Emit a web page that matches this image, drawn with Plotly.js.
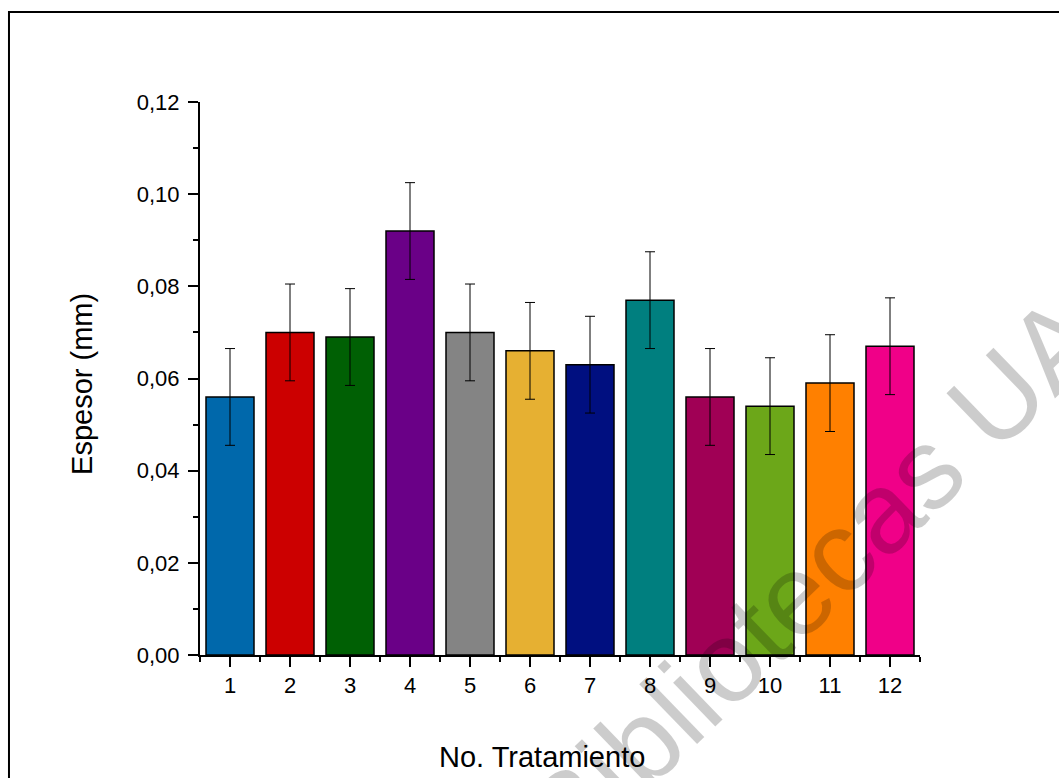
<!DOCTYPE html>
<html>
<head>
<meta charset="utf-8">
<script src="https://cdn.plot.ly/plotly-3.0.1.min.js"></script>
<style>
  html, body { margin: 0; padding: 0; background: #ffffff; }
  #chart { width: 1059px; height: 778px; }
</style>
</head>
<body>
<div id="chart"></div>
<script>
// Data
const categories = [1, 2, 3, 4, 5, 6, 7, 8, 9, 10, 11, 12];
const espesor = [0.056, 0.070, 0.069, 0.092, 0.070, 0.066, 0.063, 0.077, 0.056, 0.054, 0.059, 0.067];
const errores = [0.0105, 0.0105, 0.0105, 0.0105, 0.0105, 0.0105, 0.0105, 0.0105, 0.0105, 0.0105, 0.0105, 0.0105];
const barColors = ["#0068ab", "#cc0000", "#006004", "#6a0087", "#848484", "#e6b032",
                   "#000f80", "#007f7f", "#a00055", "#6ca719", "#ff8000", "#f00088"];
const yTicks = [0, 0.02, 0.04, 0.06, 0.08, 0.10, 0.12];
const xLabel = "No. Tratamiento";
const yLabel = "Espesor (mm)";
const watermark = "Bibliotecas UA";

const font = "Liberation Sans, Arial, sans-serif";

const trace = {
  type: "bar",
  x: categories,
  y: espesor,
  width: 0.8,
  marker: { color: barColors, line: { color: "#000000", width: 1.5 } },
  error_y: { type: "data", array: errores, visible: true, color: "#000000", thickness: 1, width: 5 },
  hoverinfo: "x+y"
};

const layout = {
  width: 1059,
  height: 778,
  margin: { l: 200, r: 139, t: 102, b: 123, pad: 0 },
  paper_bgcolor: "#ffffff",
  plot_bgcolor: "#ffffff",
  separators: ",.",
  showlegend: false,
  font: { family: font, color: "#000000", size: 22 },
  xaxis: {
    type: "linear",
    range: [0.5, 12.5],
    tickvals: categories,
    ticktext: categories.map(String),
    ticks: "outside",
    ticklen: 10,
    tickwidth: 2,
    tickcolor: "#000000",
    showline: true,
    linewidth: 2,
    linecolor: "#000000",
    showgrid: false,
    zeroline: false,
    tickfont: { family: font, size: 22, color: "#000000" },
    minor: { tick0: 0.5, dtick: 1, ticks: "outside", ticklen: 5, tickwidth: 2, tickcolor: "#000000", showgrid: false },
    automargin: false,
    fixedrange: true
  },
  yaxis: {
    range: [0, 0.12],
    tickvals: yTicks,
    tickformat: ".2f",
    ticks: "outside",
    ticklen: 10,
    tickwidth: 2,
    tickcolor: "#000000",
    ticklabelstandoff: 4,
    showline: true,
    linewidth: 2,
    linecolor: "#000000",
    showgrid: false,
    zeroline: false,
    tickfont: { family: font, size: 22, color: "#000000" },
    minor: { dtick: 0.01, ticks: "outside", ticklen: 5, tickwidth: 2, tickcolor: "#000000", showgrid: false },
    automargin: false,
    fixedrange: true
  },
  annotations: [
    {
      text: xLabel, xref: "paper", yref: "paper", x: 0.475, y: -0.185,
      xanchor: "center", yanchor: "middle", showarrow: false,
      font: { family: font, size: 29, color: "#000000" }
    },
    {
      text: yLabel, xref: "paper", yref: "paper", x: -0.164, y: 0.49,
      xanchor: "center", yanchor: "middle", showarrow: false, textangle: -90,
      font: { family: font, size: 29, color: "#000000" }
    },
    {
      text: watermark, xref: "paper", yref: "paper", x: 0.852, y: 0.143,
      xanchor: "center", yanchor: "middle", showarrow: false, textangle: -44,
      font: { family: font, size: 115, color: "rgba(0,0,0,0.2)" }
    }
  ],
  shapes: [
    {
      type: "rect", xref: "paper", yref: "paper",
      x0: -0.2653, x1: 1.5, y0: -0.5, y1: 1.1627,
      line: { color: "#000000", width: 2 }, fillcolor: "rgba(0,0,0,0)", layer: "below"
    }
  ]
};

Plotly.newPlot("chart", [trace], layout, { displayModeBar: false, staticPlot: true });
</script>
</body>
</html>
